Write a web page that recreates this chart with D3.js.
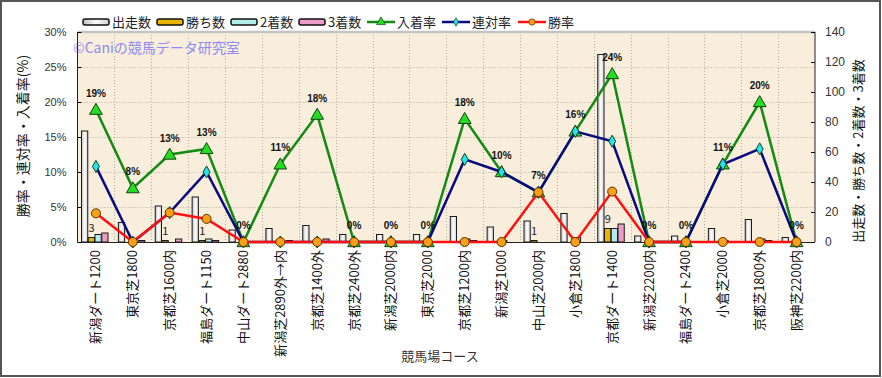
<!DOCTYPE html>
<html>
<head>
<meta charset="utf-8">
<script src="https://cdn.jsdelivr.net/npm/d3@7"></script>
<style>
    body { margin: 0; background: #fff; }
    svg { display: block; font-family: "Noto Sans CJK JP", "DejaVu Sans", sans-serif; }
</style>
</head>
<body>
<svg id="chart" width="882" height="378"></svg>
<script>
// Data
const courses = ['新潟ダート1200', '東京芝1800', '京都芝1600内', '福島ダート1150', '中山ダート2880',
    '新潟芝2890外→内', '京都芝1400外', '京都芝2400外', '新潟芝2000内', '東京芝2000',
    '京都芝1200内', '新潟芝1000', '中山芝2000内', '小倉芝1800', '京都ダート1400',
    '新潟芝2200内', '福島ダート2400', '小倉芝2000', '京都芝1800外', '阪神芝2200内'];
const starts  = [74, 13, 24, 30, 8, 9, 11, 5, 5, 5, 17, 10, 14, 19, 125, 4, 4, 9, 15, 3];
const wins    = [3, 0, 1, 1, 0, 0, 0, 0, 0, 0, 0, 0, 1, 0, 9, 0, 0, 0, 0, 0];
const seconds = [5, 0, 0, 2, 0, 0, 0, 0, 0, 0, 2, 1, 0, 3, 9, 0, 0, 1, 2, 0];
const thirds  = [6, 1, 2, 1, 0, 1, 2, 0, 0, 0, 1, 0, 0, 0, 12, 0, 0, 0, 1, 0];
const placeRate = [18.9, 7.7, 12.5, 13.3, 0, 11.1, 18.2, 0, 0, 0, 17.6, 10, 7.1, 15.8, 24, 0, 0, 11.1, 20, 0];
const quinRate  = [10.8, 0, 4.2, 10, 0, 0, 0, 0, 0, 0, 11.8, 10, 7.1, 15.8, 14.4, 0, 0, 11.1, 13.3, 0];
const winRate   = [4.1, 0, 4.2, 3.3, 0, 0, 0, 0, 0, 0, 0, 0, 7.1, 0, 7.2, 0, 0, 0, 0, 0];
const pctTicks = [0, 5, 10, 15, 20, 25, 30];
const countTicks = [0, 20, 40, 60, 80, 100, 120, 140];

// Layout
const L = 77.5, R = 815, T = 32, B = 242;
const svg = d3.select('#chart');

const x = d3.scaleBand().domain(courses).range([L, R]);
const xBar = d3.scaleBand().domain(['starts', 'wins', 'seconds', 'thirds']).range([4, 31]);
const yPct = d3.scaleLinear().domain([0, 30]).range([B, T]);
const yCnt = d3.scaleLinear().domain([0, 140]).range([B, T]);

const defs = svg.append('defs');
const grad = defs.append('linearGradient').attr('id', 'gStart');
grad.append('stop').attr('offset', '0%').attr('stop-color', '#bdbdbd');
grad.append('stop').attr('offset', '50%').attr('stop-color', '#ffffff');
grad.append('stop').attr('offset', '100%').attr('stop-color', '#d0d0d0');

// Frame
svg.append('rect').attr('x', 1).attr('y', 1).attr('width', 879).attr('height', 375)
    .attr('fill', '#fff').attr('stroke', '#555').attr('stroke-width', 2);

// Plot background
svg.append('rect').attr('x', L).attr('y', T).attr('width', R - L).attr('height', B - T)
    .attr('fill', '#f9eedb');

// Grid
const grid = svg.append('g').attr('stroke', '#b5aca0').attr('stroke-dasharray', '1,2').attr('stroke-width', 1);
grid.selectAll('line.h').data(pctTicks.slice(1, -1)).join('line')
    .attr('x1', L).attr('x2', R).attr('y1', (d) => yPct(d) + 0.5).attr('y2', (d) => yPct(d) + 0.5);
grid.selectAll('line.v').data(courses.slice(1)).join('line')
    .attr('x1', (d) => Math.round(x(d)) + 0.5).attr('x2', (d) => Math.round(x(d)) + 0.5)
    .attr('y1', T).attr('y2', B);

svg.append('line').attr('x1', L).attr('x2', R).attr('y1', T).attr('y2', T)
    .attr('stroke', '#c4c4c4').attr('stroke-width', 2.5);

// Watermark
svg.append('text').attr('x', 73).attr('y', 53).attr('font-size', 14).attr('fill', '#8c8cf2')
    .text('©Caniの競馬データ研究室');

// Bars
const barData = courses.map((c, i) => [
    { c, key: 'starts', v: starts[i], fill: 'url(#gStart)' },
    { c, key: 'wins', v: wins[i], fill: '#e8b400' },
    { c, key: 'seconds', v: seconds[i], fill: '#b4ecec' },
    { c, key: 'thirds', v: thirds[i], fill: '#ec9cc8' }
]).flat().filter((d) => d.v > 0);

svg.append('g').selectAll('rect').data(barData).join('rect')
    .attr('x', (d) => x(d.c) + xBar(d.key))
    .attr('y', (d) => yCnt(d.v))
    .attr('width', xBar.bandwidth() - 0.5)
    .attr('height', (d) => B - yCnt(d.v))
    .attr('fill', (d) => d.fill)
    .attr('stroke', '#1a1a1a')
    .attr('stroke-width', 1);

// Win count labels
svg.append('g').selectAll('text').data(courses.filter((c, i) => wins[i] > 0)).join('text')
    .attr('x', (c) => x(c) + xBar('wins') + xBar.bandwidth() / 2)
    .attr('y', (c) => yCnt(wins[courses.indexOf(c)]) - 6)
    .attr('text-anchor', 'middle').attr('font-size', 11).attr('fill', '#222')
    .text((c) => wins[courses.indexOf(c)]);

// Axes lines
svg.append('line').attr('x1', L).attr('x2', L).attr('y1', T).attr('y2', B).attr('stroke', '#222');
svg.append('line').attr('x1', R).attr('x2', R).attr('y1', T).attr('y2', B).attr('stroke', '#222');
svg.append('line').attr('x1', L).attr('x2', R).attr('y1', B + 0.5).attr('y2', B + 0.5).attr('stroke', '#222');

const leftAxis = svg.append('g').attr('transform', `translate(${L},0)`)
    .call(d3.axisRight(yPct).tickValues(pctTicks).tickFormat((d) => d + '%').tickSize(4));
leftAxis.select('.domain').remove();
leftAxis.selectAll('text').attr('x', -11).attr('text-anchor', 'end').attr('font-size', 11).attr('fill', '#333')
    .attr('font-family', 'Liberation Sans, Arial, sans-serif');

const rightAxis = svg.append('g').attr('transform', `translate(${R},0)`)
    .call(d3.axisLeft(yCnt).tickValues(countTicks).tickSize(4));
rightAxis.select('.domain').remove();
rightAxis.selectAll('text').attr('x', 10).attr('text-anchor', 'start').attr('font-size', 12).attr('fill', '#333')
    .attr('font-family', 'Liberation Sans, Arial, sans-serif');

// X labels
svg.append('g').selectAll('text').data(courses).join('text')
    .attr('transform', (c) => `translate(${x(c) + x.bandwidth() / 2 + 4.5},${B + 8}) rotate(-90)`)
    .attr('text-anchor', 'end').attr('font-size', 13).attr('fill', '#111')
    .text((c) => c);

// Axis titles
svg.append('text').attr('x', 440).attr('y', 361).attr('text-anchor', 'middle')
    .attr('font-size', 13).attr('fill', '#333').text('競馬場コース');
svg.append('text').attr('transform', 'translate(28,136) rotate(-90)').attr('text-anchor', 'middle')
    .attr('font-size', 14).attr('fill', '#111').text('勝率・連対率・入着率(%)');
svg.append('text').attr('transform', 'translate(863,151) rotate(-90)').attr('text-anchor', 'middle')
    .attr('font-size', 13).attr('fill', '#111').text('出走数・勝ち数・2着数・3着数');

// Lines
const cx = (i) => x(courses[i]) + x.bandwidth() / 2;
const lineGen = d3.line().x((d, i) => cx(i)).y((d) => yPct(d));
const series = [
    { name: '入着率', data: placeRate, color: '#138a13', marker: 'tri', fill: '#22dd22' },
    { name: '連対率', data: quinRate, color: '#0a0a80', marker: 'dia', fill: '#22e6ee' },
    { name: '勝率', data: winRate, color: '#ff1010', marker: 'cir', fill: '#f7a018' }
];
const sym = {
    tri: d3.symbol(d3.symbolTriangle, 70),
    dia: d3.symbol(d3.symbolDiamond, 42),
    cir: d3.symbol(d3.symbolCircle, 64)
};

series.forEach((s) => {
    svg.append('path').datum(s.data).attr('d', lineGen)
        .attr('fill', 'none').attr('stroke', s.color).attr('stroke-width', 2.5);
    svg.append('g').selectAll('path').data(s.data).join('path')
        .attr('d', sym[s.marker])
        .attr('transform', (d, i) => `translate(${cx(i)},${yPct(d) + (s.marker === 'tri' ? 1 : 0)})`)
        .attr('fill', s.fill).attr('stroke', s.marker === 'cir' ? '#5a3000' : '#144014').attr('stroke-width', 1);
});

// Place-rate labels
svg.append('g').selectAll('text').data(placeRate).join('text')
    .attr('x', (d, i) => cx(i)).attr('y', (d) => yPct(d) - 13)
    .attr('text-anchor', 'middle').attr('font-size', 10).attr('font-weight', 'bold').attr('fill', '#111')
    .attr('font-family', 'Liberation Sans, Arial, sans-serif')
    .text((d) => Math.round(d) + '%');

// Legend
const legend = svg.append('g').attr('font-size', 13).attr('fill', '#222');
const boxItems = [
    { name: '出走数', x: 83, fill: 'url(#gStart)' },
    { name: '勝ち数', x: 157, fill: '#e8b400' },
    { name: '2着数', x: 231, fill: '#b4ecec' },
    { name: '3着数', x: 299, fill: '#ec9cc8' }
];
boxItems.forEach((b) => {
    legend.append('rect').attr('x', b.x).attr('y', 19).attr('width', 26).attr('height', 6).attr('rx', 2)
        .attr('fill', b.fill).attr('stroke', '#111').attr('stroke-width', 1.5);
    legend.append('text').attr('x', b.x + 29).attr('y', 27).text(b.name);
});
const lineItems = [{ s: series[0], x: 367 }, { s: series[1], x: 442 }, { s: series[2], x: 518 }];
lineItems.forEach((l) => {
    legend.append('line').attr('x1', l.x).attr('x2', l.x + 28).attr('y1', 22).attr('y2', 22)
        .attr('stroke', l.s.color).attr('stroke-width', 2.5);
    legend.append('path').attr('d', sym[l.s.marker]).attr('transform', `translate(${l.x + 14},22) scale(0.7)`)
        .attr('fill', l.s.fill).attr('stroke', l.s.marker === 'cir' ? '#5a3000' : '#144014');
    legend.append('text').attr('x', l.x + 30).attr('y', 27).text(l.s.name);
});
</script>
</body>
</html>
